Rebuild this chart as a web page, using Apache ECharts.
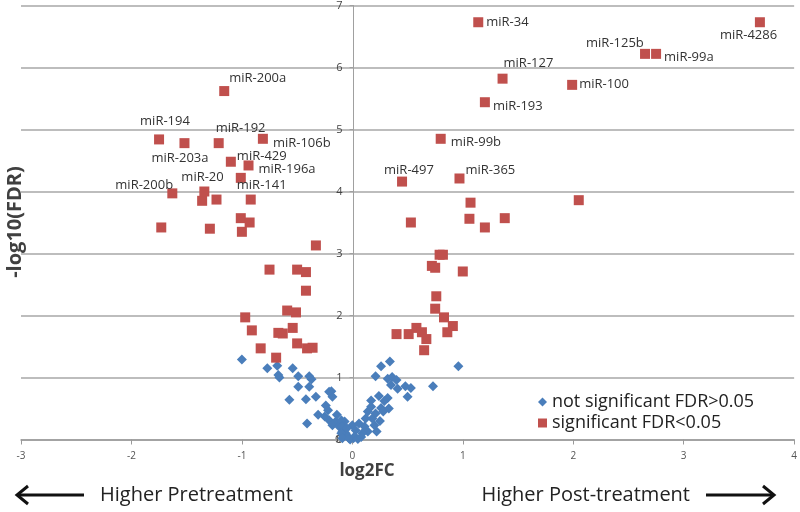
<!DOCTYPE html>
<html>
<head>
<meta charset="utf-8">
<title>miRNA volcano plot</title>
<script src="https://cdn.jsdelivr.net/npm/echarts@6/dist/echarts.min.js"></script>
<style>
  html, body { margin: 0; padding: 0; background: #ffffff; }
  #chart { width: 800px; height: 512px; }
</style>
</head>
<body>
<div id="chart"></div>
<script>
// labelled significant miRNAs (log2FC, -log10(FDR))
const sigNames = ["miR-200a", "miR-194", "miR-203a", "miR-192", "miR-106b", "miR-429", "miR-196a", "miR-141", "miR-20", "miR-200b",
  "miR-34", "miR-4286", "miR-125b", "miR-99a", "miR-127", "miR-100", "miR-193", "miR-99b", "miR-497", "miR-365"];
const sigLog2FC = [-1.16, -1.75, -1.52, -1.21, -0.81, -1.10, -0.94, -1.01, -1.34, -1.63,
  1.14, 3.69, 2.65, 2.75, 1.36, 1.99, 1.20, 0.80, 0.45, 0.97];
const sigLogFDR = [5.62, 4.84, 4.78, 4.78, 4.85, 4.48, 4.42, 4.22, 4.00, 3.97,
  6.73, 6.73, 6.22, 6.22, 5.82, 5.72, 5.44, 4.85, 4.16, 4.21];

// other significant miRNAs without a label
const otherSigLog2FC = [-1.36, -1.23, -0.92, -1.73, -1.29, -1.01, -0.93, -1.00, -0.33, -0.75, -0.50, -0.42, -0.42,
  -0.59, -0.51, -0.97, -0.91, -0.67, -0.63, -0.54, -0.83, -0.50, -0.41, -0.36, -0.69,
  2.05, 1.07, 0.53, 1.06, 1.38, 1.20, 0.79, 0.82, 0.72, 0.75, 1.00, 0.76, 0.75, 0.83, 0.91, 0.86,
  0.40, 0.51, 0.58, 0.63, 0.67, 0.65];
const otherSigLogFDR = [3.85, 3.87, 3.87, 3.42, 3.40, 3.57, 3.50, 3.35, 3.13, 2.74, 2.74, 2.70, 2.40,
  2.08, 2.05, 1.97, 1.76, 1.72, 1.71, 1.80, 1.47, 1.55, 1.47, 1.48, 1.32,
  3.86, 3.82, 3.50, 3.56, 3.57, 3.42, 2.98, 2.98, 2.80, 2.77, 2.71, 2.31, 2.11, 1.97, 1.83, 1.73,
  1.70, 1.70, 1.80, 1.73, 1.62, 1.44];

// not significant miRNAs
const nsLog2FC = [-1.00, -0.77, -0.68, -0.66, -0.67, -0.54, -0.49, -0.49, -0.39, -0.37, -0.39, -0.57, -0.42, -0.33,
  -0.19, -0.18, -0.24, -0.22, -0.31, -0.41, -0.25, -0.21, -0.15, -0.18, -0.12, -0.09, -0.06, -0.03, 0.00,
  -0.07, -0.10, -0.09, -0.06, -0.10, -0.09, -0.21, -0.14, -0.05, -0.02, 0.01,
  0.34, 0.26, 0.21, 0.32, 0.36, 0.40, 0.35, 0.41, 0.48, 0.53, 0.50, 0.73, 0.96, 0.24, 0.32, 0.29, 0.17,
  0.33, 0.26, 0.17, 0.14, 0.21, 0.18, 0.12, 0.20, 0.06, 0.11, 0.22, 0.14, 0.03, 0.09, 0.02, -0.03,
  0.05, 0.08, 0.25, 0.28];
const nsLogFDR = [1.29, 1.15, 1.19, 1.00, 1.04, 1.15, 1.02, 0.85, 1.02, 0.97, 0.85, 0.64, 0.65, 0.69,
  0.78, 0.69, 0.55, 0.47, 0.40, 0.26, 0.37, 0.31, 0.29, 0.23, 0.21, 0.13, 0.07, 0.03, 0.23,
  0.29, 0.31, 0.21, 0.10, 0.10, 0.02, 0.77, 0.40, 0.18, 0.00, 0.02,
  1.26, 1.18, 1.02, 0.98, 1.01, 0.96, 0.88, 0.82, 0.86, 0.83, 0.69, 0.86, 1.18, 0.70, 0.67, 0.62, 0.63,
  0.50, 0.51, 0.53, 0.45, 0.42, 0.34, 0.34, 0.23, 0.26, 0.21, 0.13, 0.13, 0.15, 0.10, 0.05, 0.02,
  0.01, 0.04, 0.30, 0.45];

const xTicks = [-3, -2, -1, 0, 1, 2, 3, 4];
const yTicks = [0, 1, 2, 3, 4, 5, 6, 7];

// where each label sits relative to its marker (px, left edge / vertical middle)
const labelOffset = {
  "miR-200a": [5, -13], "miR-194": [-19, -18], "miR-203a": [-33, 15], "miR-192": [-3, -15],
  "miR-106b": [10, 4], "miR-429": [6, -5], "miR-196a": [10, 4], "miR-141": [-4, 7],
  "miR-20": [-23, -14], "miR-200b": [-57, -8], "miR-34": [8, 0], "miR-4286": [-40, 13],
  "miR-125b": [-59, -11], "miR-99a": [8, 3], "miR-127": [1, -15], "miR-100": [7, -1],
  "miR-193": [8, 4], "miR-99b": [10, 3], "miR-497": [-18, -11], "miR-365": [6, -8]
};

const FONT = "Open Sans";
const BLUE = "#4a7ebb";
const RED = "#c0504d";
const GRID = { left: 21, right: 3, top: 4, bottom: 72.5 };
const Y_LABEL_MARGIN = 11;

let nsData = nsLog2FC.map((x, i) => [x, nsLogFDR[i]]);
let sigData = otherSigLog2FC.map((x, i) => [x, otherSigLogFDR[i]]);
sigNames.forEach((name, i) => {
  sigData.push({
    name: name,
    value: [sigLog2FC[i], sigLogFDR[i]],
    label: { show: true, offset: labelOffset[name] }
  });
});

// shift the y axis (with its labels) onto log2FC = 0
let plotWidth = 800 - GRID.left - GRID.right;
let xMin = xTicks[0], xMax = xTicks[xTicks.length - 1];
let zeroShift = plotWidth * (0 - xMin) / (xMax - xMin);

let decorations = [
  {
    type: "text", x: 15, y: 222, rotation: Math.PI / 2,
    style: { text: "-log10(FDR)", font: "bold 20px 'Open Sans'", fill: "#404040", align: "center", verticalAlign: "middle" }
  },
  {
    type: "text", x: 367, y: 471,
    style: { text: "log2FC", font: "bold 17px 'Open Sans'", fill: "#404040", align: "center", verticalAlign: "middle" }
  },
  {
    type: "text", x: 100, y: 495,
    style: { text: "Higher Pretreatment", font: "20px 'Open Sans'", fill: "#222222", align: "left", verticalAlign: "middle" }
  },
  {
    type: "text", x: 690, y: 495,
    style: { text: "Higher Post-treatment", font: "20px 'Open Sans'", fill: "#222222", align: "right", verticalAlign: "middle" }
  },
  { type: "line", shape: { x1: 18, y1: 495, x2: 84, y2: 495 }, style: { stroke: "#111111", lineWidth: 3 } },
  { type: "polyline", shape: { points: [[28, 486], [17, 495], [28, 504]] }, style: { stroke: "#111111", lineWidth: 3, fill: null } },
  { type: "line", shape: { x1: 706, y1: 495, x2: 773, y2: 495 }, style: { stroke: "#111111", lineWidth: 3 } },
  { type: "polyline", shape: { points: [[763, 486], [774, 495], [763, 504]] }, style: { stroke: "#111111", lineWidth: 3, fill: null } }
];

let chart = echarts.init(document.getElementById("chart"));
chart.setOption({
  animation: false,
  backgroundColor: "#ffffff",
  textStyle: { fontFamily: FONT },
  grid: GRID,
  xAxis: {
    type: "value",
    min: xMin,
    max: xMax,
    interval: 1,
    axisLine: { show: true, onZero: false, lineStyle: { color: "#9a9a9a", width: 1.5 } },
    axisTick: { show: true, length: 5, lineStyle: { color: "#9a9a9a" } },
    axisLabel: { fontSize: 10, color: "#555555", margin: 12 },
    splitLine: { show: false }
  },
  yAxis: {
    type: "value",
    min: yTicks[0],
    max: yTicks[yTicks.length - 1],
    interval: 1,
    offset: -zeroShift,
    axisLine: { show: true, onZero: false, lineStyle: { color: "#a0a0a0", width: 1 } },
    axisTick: { show: true, length: 4, lineStyle: { color: "#a0a0a0" } },
    axisLabel: { fontSize: 11, color: "#444444", margin: Y_LABEL_MARGIN, showMinLabel: true, showMaxLabel: true, hideOverlap: false },
    splitLine: { show: true, lineStyle: { color: "#bdbdbd", width: 2 } }
  },
  legend: {
    orient: "vertical",
    left: 533,
    top: 388,
    itemWidth: 9,
    itemHeight: 9,
    itemGap: 3,
    textStyle: { fontSize: 18, color: "#222222", fontFamily: FONT },
    data: [
      { name: "not significant FDR>0.05", icon: "diamond" },
      { name: "significant FDR<0.05", icon: "rect" }
    ]
  },
  series: [
    {
      name: "not significant FDR>0.05",
      type: "scatter",
      symbol: "diamond",
      symbolSize: 10,
      itemStyle: { color: BLUE, opacity: 1 },
      data: nsData
    },
    {
      name: "significant FDR<0.05",
      type: "scatter",
      symbol: "rect",
      symbolSize: 10,
      itemStyle: { color: RED, opacity: 1 },
      label: {
        show: false,
        position: "inside",
        align: "left",
        verticalAlign: "middle",
        formatter: "{b}",
        fontSize: 13,
        color: "#333333",
        fontFamily: FONT
      },
      data: sigData
    }
  ],
  graphic: decorations
});

// the shifted y axis drops its "0" label, so put it back at the axis origin
let origin = chart.convertToPixel({ gridIndex: 0 }, [0, yTicks[0]]);
chart.setOption({
  graphic: decorations.concat([{
    type: "text", x: origin[0] - Y_LABEL_MARGIN, y: origin[1],
    style: { text: String(yTicks[0]), font: "11px 'Open Sans'", fill: "#444444", align: "right", verticalAlign: "middle" }
  }])
});
</script>
</body>
</html>
